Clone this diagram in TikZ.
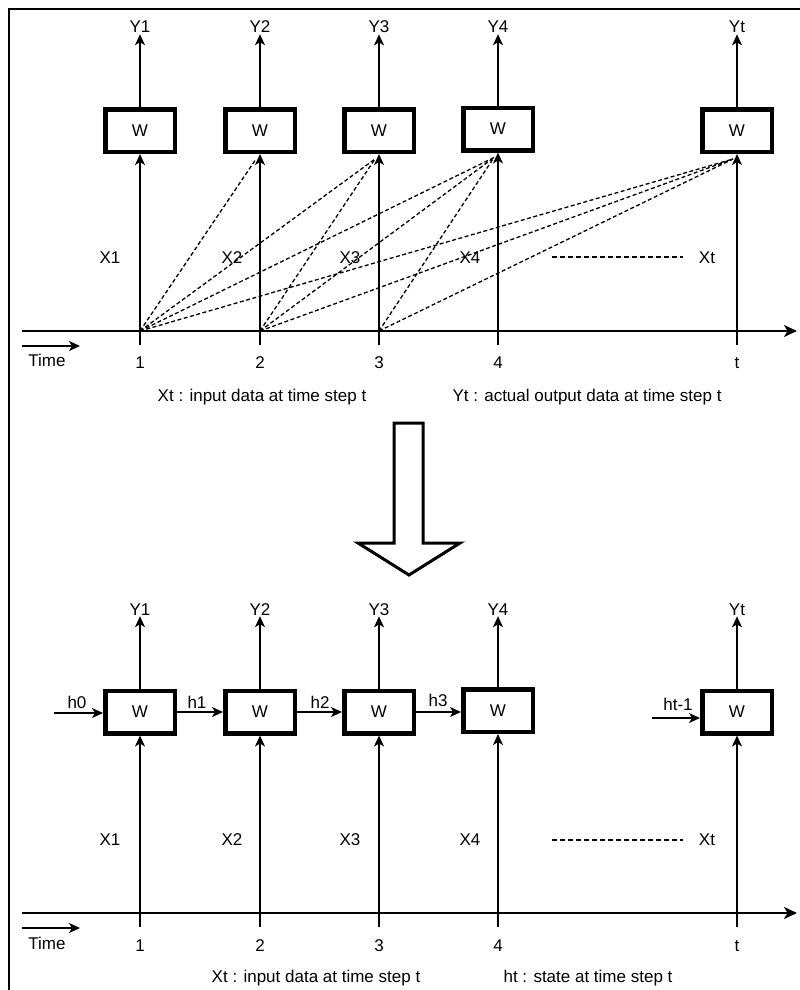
\documentclass[tikz,border=0pt]{standalone}
\usepackage{fontspec}
\setmainfont{Liberation Sans}
\usetikzlibrary{arrows.meta}
\begin{document}
\begin{tikzpicture}[x=1pt,y=-1pt,
  every node/.style={font=\fontsize{17}{20}\selectfont},
  cell/.style={draw,line width=4.5pt,minimum width=69.5pt,minimum height=42.5pt,inner sep=0pt},
  lbl/.style={inner sep=1pt},
  flow/.style={line width=1.4pt,-{Stealth[length=11pt,width=10pt,inset=3pt]}},
  link/.style={line width=1.3pt,dash pattern=on 4pt off 2.5pt},
  dots/.style={line width=1.1pt,dash pattern=on 5pt off 3pt},
  axis/.style={line width=1.7pt,-{Stealth[length=13pt,width=12pt,inset=3.5pt]}},
  timearrow/.style={line width=1.7pt,-{Stealth[length=11pt,width=10pt,inset=3pt]}}]
\useasboundingbox (0,0) rectangle (800,990);
% outer frame (only its top and left sides fall inside the page)
\draw[line width=2.8pt] (9,9) rectangle (830,1020);

% ================= upper part: independent steps =================
\node[cell] (b1) at (140,130.5) {W};
\node[cell] (b2) at (260,130.5) {W};
\node[cell] (b3) at (379,130.5) {W};
\node[cell] (b4) at (498,129) {W};
\node[cell] (bt) at (737,130.5) {W};

\node[lbl,anchor=base] (y1) at (140,33) {Y1};
\node[lbl,anchor=base] (y2) at (260,33) {Y2};
\node[lbl,anchor=base] (y3) at (379,33) {Y3};
\node[lbl,anchor=base] (y4) at (498,33) {Y4};
\node[lbl,anchor=base] (yt) at (737,33) {Yt};
\foreach \i in {1,2,3,4,t} \draw[flow] (b\i.north) -- (y\i.south);

% time axis
\coordinate (ax0) at (22,331);
\coordinate (ax1) at (797,331);
\draw[axis] (ax0) -- (ax1);
\coordinate (ta0) at (22,346);
\coordinate (ta1) at (80,346);
\draw[timearrow] (ta0) -- (ta1);
\node[lbl] (time) at (47,360) {Time};

% axis points and tick ends
\foreach \i/\x in {1/140,2/260,3/379,4/498,t/737}{
  \coordinate (a\i) at (\x,331);
  \coordinate (t\i) at (\x,345);
  \draw[flow] (t\i) -- (b\i.south);
}
\node[lbl] (n1) at (140,363) {1};
\node[lbl] (n2) at (260,363) {2};
\node[lbl] (n3) at (379,363) {3};
\node[lbl] (n4) at (498,363) {4};
\node[lbl] (nt) at (737,363) {t};

% dashed dependencies from earlier inputs to later cells
\foreach \i in {2,3,4,t} \coordinate (d\i) at ([xshift=-4pt,yshift=-5pt]b\i.south);
\foreach \s/\e in {1/2,1/3,1/4,1/t,2/3,2/4,2/t,3/4,3/t}
  \draw[link] (a\s) -- (d\e);

\node[lbl] (x1) at (110,258) {X1};
\node[lbl] (x2) at (232,258) {X2};
\node[lbl] (x3) at (350,258) {X3};
\node[lbl] (x4) at (470,258) {X4};
\node[lbl] (xt) at (707,258) {Xt};
\coordinate (g0) at (552,257);
\coordinate (g1) at (683,257);
\draw[dots] (g0) -- (g1);

\node[lbl] (capa) at (262,397) {Xt : input data at time step t};
\node[lbl] (capb) at (587,397) {Yt : actual output data at time step t};

% ================= transition arrow =================
\draw[line width=3pt,line join=miter,fill=white]
  (394,423) -- (423,423) -- (423,543) -- (460,543) -- (409,575)
  -- (358,543) -- (394,543) -- cycle;

% ================= lower part: recurrent chain =================
\node[cell] (c1) at (140,712) {W};
\node[cell] (c2) at (260,712) {W};
\node[cell] (c3) at (379,712) {W};
\node[cell] (c4) at (498,710.5) {W};
\node[cell] (ct) at (737,712) {W};

\node[lbl,anchor=base] (z1) at (140,615) {Y1};
\node[lbl,anchor=base] (z2) at (260,615) {Y2};
\node[lbl,anchor=base] (z3) at (379,615) {Y3};
\node[lbl,anchor=base] (z4) at (498,615) {Y4};
\node[lbl,anchor=base] (zt) at (737,615) {Yt};
\foreach \i in {1,2,3,4,t} \draw[flow] (c\i.north) -- (z\i.south);

% state connections
\coordinate (h0s) at (54,713);
\draw[flow] (h0s) -- (h0s -| c1.west);
\draw[flow] (c1.east) -- (c2.west);
\draw[flow] (c2.east) -- (c3.west);
\draw[flow] (c3.east) -- (c4.west |- c3.east);
\coordinate (hts) at (652,718);
\draw[flow] (hts) -- (hts -| ct.west);
\node[lbl] (h0) at (77,702) {h0};
\node[lbl] (h1) at (197,702) {h1};
\node[lbl] (h2) at (320,702) {h2};
\node[lbl] (h3) at (438,700) {h3};
\node[lbl] (htm) at (678,704) {ht-1};

% time axis
\coordinate (bx0) at (22,913);
\coordinate (bx1) at (797,913);
\draw[axis] (bx0) -- (bx1);
\coordinate (tb0) at (22,928);
\coordinate (tb1) at (80,928);
\draw[timearrow] (tb0) -- (tb1);
\node[lbl] (time2) at (47,943) {Time};

\foreach \i/\x in {1/140,2/260,3/379,4/498,t/737}{
  \coordinate (u\i) at (\x,927);
  \draw[flow] (u\i) -- (c\i.south);
}
\node[lbl] (m1) at (140,946) {1};
\node[lbl] (m2) at (260,946) {2};
\node[lbl] (m3) at (379,946) {3};
\node[lbl] (m4) at (498,946) {4};
\node[lbl] (mt) at (737,946) {t};

\node[lbl] (w1) at (110,840) {X1};
\node[lbl] (w2) at (232,840) {X2};
\node[lbl] (w3) at (350,840) {X3};
\node[lbl] (w4) at (470,840) {X4};
\node[lbl] (wt) at (707,840) {Xt};
\coordinate (k0) at (552,840);
\coordinate (k1) at (683,840);
\draw[dots] (k0) -- (k1);

\node[lbl] (capc) at (316,978) {Xt : input data at time step t};
\node[lbl] (capd) at (588,978) {ht : state at time step t};
\end{tikzpicture}
\end{document}
